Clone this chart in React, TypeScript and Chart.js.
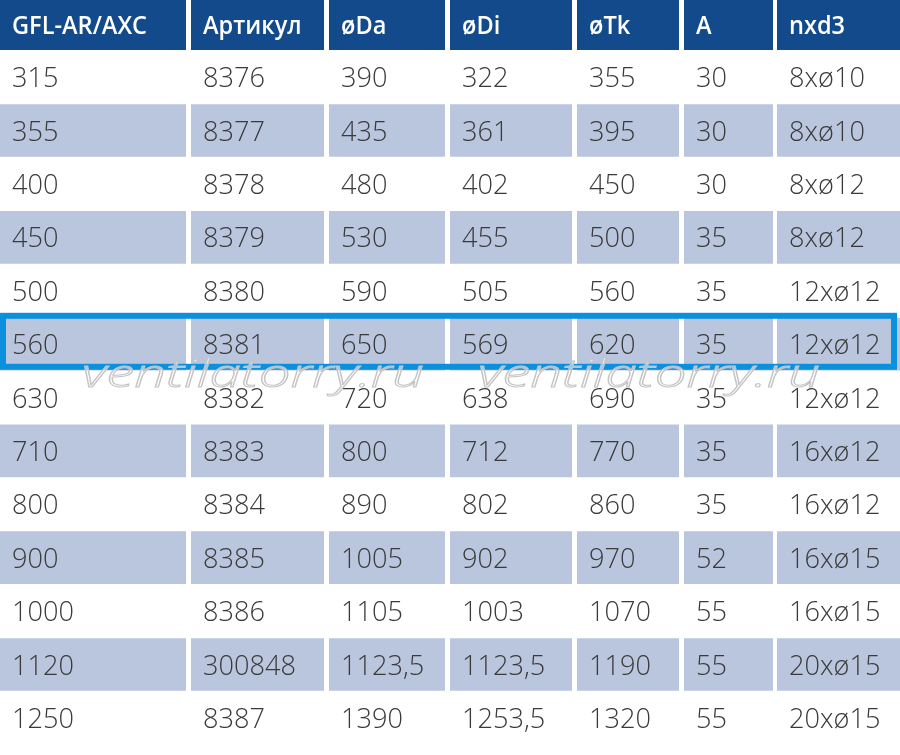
import React, { useEffect, useRef } from "react";
import { Chart, registerables } from "chart.js";

Chart.register(...registerables);

// ---- data ----
const HEADERS = ["GFL-AR/AXC", "Артикул", "øDa", "øDi", "øTk", "A", "nxd3"];
const MODEL = ["315", "355", "400", "450", "500", "560", "630", "710", "800", "900", "1000", "1120", "1250"];
const ARTIKUL = ["8376", "8377", "8378", "8379", "8380", "8381", "8382", "8383", "8384", "8385", "8386", "300848", "8387"];
const DA = ["390", "435", "480", "530", "590", "650", "720", "800", "890", "1005", "1105", "1123,5", "1390"];
const DI = ["322", "361", "402", "455", "505", "569", "638", "712", "802", "902", "1003", "1123,5", "1253,5"];
const TK = ["355", "395", "450", "500", "560", "620", "690", "770", "860", "970", "1070", "1190", "1320"];
const A = ["30", "30", "30", "35", "35", "35", "35", "35", "35", "52", "55", "55", "55"];
const HOLES = ["8xø10", "8xø10", "8xø12", "8xø12", "12xø12", "12xø12", "12xø12", "16xø12", "16xø12", "16xø15", "16xø15", "20xø15", "20xø15"];
const HIGHLIGHT_MODEL = "560";
const WATERMARK = "ventilatorry.ru";

// ---- layout / style ----
const COL_EDGES: [number, number][] = [
  [0, 186], [191, 324], [329, 445], [450, 572], [577, 679], [684, 773], [777, 900],
];
const HEADER_BG = "#124a8b";
const BAND_BG = "#bac6de";
const TEXT_COLOR = "#3a3a3a";
const BORDER_COLOR = "#0a90dc";
const TEXT_PAD = 12;

const ROW_LABELS = [HEADERS[0], ...MODEL];
const COLUMNS = [MODEL, ARTIKUL, DA, DI, TK, A, HOLES].map((c, j) => [HEADERS[j], ...c]);

const tablePlugin = {
  id: "tableText",
  afterDatasetsDraw(chart: any) {
    const ctx = chart.ctx as CanvasRenderingContext2D;
    const xs = chart.scales.x;
    const ys = chart.scales.y;
    ctx.save();
    ctx.font = '600 26px "Open Sans"';
    const hw = ctx.measureText(HEADERS[0]).width;
    const hsx = Math.min(1, 135 / hw);
    COLUMNS.forEach((col, j) => {
      const x = xs.getPixelForValue(COL_EDGES[j][0]) + TEXT_PAD;
      col.forEach((txt, i) => {
        const cy = ys.getPixelForValue(i);
        ctx.textAlign = "left";
        ctx.textBaseline = "alphabetic";
        if (i === 0) {
          ctx.font = '600 26px "Open Sans"';
          ctx.fillStyle = "#ffffff";
          ctx.save();
          ctx.translate(x, cy + 10.3);
          ctx.scale(hsx, 1);
          ctx.fillText(txt, 0, 0);
          ctx.restore();
        } else {
          ctx.font = '350 28px "Open Sans"';
          ctx.fillStyle = TEXT_COLOR;
          ctx.save();
          ctx.translate(x, cy + 10);
          ctx.scale(0.97, 1);
          ctx.fillText(txt, 0, 0);
          ctx.restore();
        }
      });
    });
    // highlight border
    const hi = ROW_LABELS.indexOf(HIGHLIGHT_MODEL);
    const hc = ys.getPixelForValue(hi);
    ctx.strokeStyle = BORDER_COLOR;
    ctx.lineWidth = 6;
    const x0 = xs.getPixelForValue(0) + 3;
    const x1 = xs.getPixelForValue(897) - 3;
    ctx.strokeRect(x0, hc - 28.3, x1 - x0, 51);
    // watermark
    ctx.font = 'italic 300 38px "Open Sans"';
    const ww = ctx.measureText(WATERMARK).width;
    const wsx = 342 / ww;
    const wy = ys.getPixelForValue(hi + 1) - 10.7;
    [82, 478].forEach((wx) => {
      ctx.save();
      ctx.translate(xs.getPixelForValue(wx), wy);
      ctx.scale(wsx, 1);
      ctx.fillStyle = "rgba(255,255,255,0.55)";
      ctx.fillText(WATERMARK, 0, 0);
      ctx.strokeStyle = "#c4c4c4";
      ctx.lineWidth = 1;
      ctx.strokeText(WATERMARK, 0, 0);
      ctx.restore();
    });
    ctx.restore();
  },
};

export default function App() {
  const ref = useRef<HTMLCanvasElement | null>(null);
  useEffect(() => {
    document.body.style.margin = "0";
    const canvas = ref.current;
    if (!canvas) return;
    const rowColors = ROW_LABELS.map((_, i) =>
      i === 0 ? HEADER_BG : i % 2 === 0 ? BAND_BG : "rgba(255,255,255,0)"
    );
    const datasets = COL_EDGES.map((edge, j) => ({
      label: HEADERS[j],
      data: ROW_LABELS.map(() => [edge[0], edge[1]]),
      backgroundColor: rowColors,
      borderWidth: 0,
      barPercentage: 0.987,
      categoryPercentage: 1,
      grouped: false,
    }));
    const chart = new Chart(canvas, {
      type: "bar",
      data: { labels: ROW_LABELS, datasets: datasets as any },
      options: {
        indexAxis: "y",
        responsive: false,
        animation: false,
        events: [],
        layout: { padding: { top: 0, left: 0, right: 0, bottom: 10.4 } },
        scales: {
          x: { type: "linear", min: 0, max: 900, display: false },
          y: { type: "category", display: false },
        },
        plugins: { legend: { display: false }, tooltip: { enabled: false } },
      },
      plugins: [tablePlugin],
    });
    return () => chart.destroy();
  }, []);
  return (
    <div style={{ width: 900, height: 758, marginTop: -3, overflow: "hidden" }}>
      <canvas ref={ref} width={900} height={758} style={{ width: 900, height: 758, display: "block" }} />
    </div>
  );
}
